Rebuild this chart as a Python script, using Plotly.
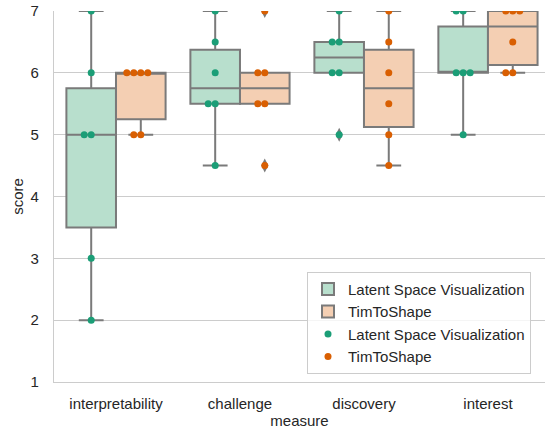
import numpy as np
import plotly.graph_objects as go

# ---- data ----
measures = ["interpretability", "challenge", "discovery", "interest"]
group_names = ["Latent Space Visualization", "TimToShape"]
lsv_scores = [
    [2, 3, 5, 5, 6, 7],
    [4.5, 5.5, 5.5, 6, 6.5, 7],
    [5, 6, 6, 6.5, 6.5, 7],
    [5, 6, 6, 6, 7, 7],
]
tts_scores = [
    [5, 5, 6, 6, 6, 6],
    [4.5, 5.5, 5.5, 6, 6, 7],
    [4.5, 5, 5.5, 6, 6.5, 7],
    [6, 6, 6.5, 7, 7, 7],
]
y_ticks = [1, 2, 3, 4, 5, 6, 7]

# ---- style ----
box_fill = ["#b8dfcd", "#f4cfb3"]
point_col = ["#1b9e77", "#d95f02"]
line_gray = "#7a7a7a"
text_col = "#262626"
grid_col = "#cccccc"

W, H = 545, 429
ml, mr, mt, mb = 54, 0, 11, 47
x_range = [-0.5, 3.46]
plot_px = W - ml - mr
dodges = [-0.2, 0.2]
box_w = 0.4
marker_px = 7
spacing = marker_px * (x_range[1] - x_range[0]) / plot_px


def box_stats(vals):
    v = np.array(vals, dtype=float)
    q1, med, q3 = np.percentile(v, [25, 50, 75])
    iqr = q3 - q1
    lo_lim, hi_lim = q1 - 1.5 * iqr, q3 + 1.5 * iqr
    inside = v[(v >= lo_lim) & (v <= hi_lim)]
    out = v[(v < lo_lim) | (v > hi_lim)]
    return q1, med, q3, inside.min(), inside.max(), out


def swarm_offsets(vals):
    # same-value points are spread 0, -1, +1, -2, +2 ... dot widths
    seq = [0]
    k = 1
    while len(seq) < 50:
        seq.append(-k)
        seq.append(k)
        k += 1
    counts = {}
    offs = []
    for v in vals:
        c = counts.get(v, 0)
        offs.append(seq[c] * spacing)
        counts[v] = c + 1
    return offs


fig = go.Figure()
all_groups = [lsv_scores, tts_scores]

# boxes
for g, scores in enumerate(all_groups):
    xs, q1s, meds, q3s, los, his = [], [], [], [], [], []
    for i, vals in enumerate(scores):
        q1, med, q3, lo, hi, _ = box_stats(vals)
        xs.append(i + dodges[g])
        q1s.append(q1); meds.append(med); q3s.append(q3)
        los.append(lo); his.append(hi)
    fig.add_trace(go.Box(
        x=xs, q1=q1s, median=meds, q3=q3s, lowerfence=los, upperfence=his,
        width=box_w, whiskerwidth=0.5, boxpoints=False,
        fillcolor=box_fill[g], line=dict(color=line_gray, width=2),
        name=group_names[g], legendgroup="box" + str(g), hoverinfo="skip",
    ))

# outliers (flier diamonds)
ox, oy = [], []
for g, scores in enumerate(all_groups):
    for i, vals in enumerate(scores):
        out = box_stats(vals)[5]
        for o in out:
            ox.append(i + dodges[g])
            oy.append(o)
fig.add_trace(go.Scatter(
    x=ox, y=oy, mode="markers", showlegend=False, hoverinfo="skip",
    marker=dict(symbol="diamond-tall", size=10, color=line_gray, line=dict(width=0)),
))

# swarm points
for g, scores in enumerate(all_groups):
    px_, py_ = [], []
    for i, vals in enumerate(scores):
        offs = swarm_offsets(vals)
        for v, o in zip(vals, offs):
            px_.append(i + dodges[g] + o)
            py_.append(v)
    fig.add_trace(go.Scatter(
        x=px_, y=py_, mode="markers", name=group_names[g],
        marker=dict(size=marker_px, color=point_col[g], line=dict(width=0)),
        hoverinfo="skip",
    ))

fig.update_layout(
    width=W, height=H,
    margin=dict(l=ml, r=mr, t=mt, b=mb, pad=0, autoexpand=False),
    paper_bgcolor="white", plot_bgcolor="white",
    font=dict(family="Liberation Sans, Arial, sans-serif", size=15, color=text_col),
    boxmode="overlay",
    showlegend=True,
    legend=dict(
        x=(307 - ml) / plot_px, y=0.022, xanchor="left", yanchor="bottom",
        bgcolor="rgba(255,255,255,0.8)", bordercolor=grid_col, borderwidth=1,
        font=dict(size=15, color=text_col), tracegroupgap=0,
        itemwidth=30,
    ),
)
fig.update_xaxes(
    range=x_range, tickmode="array", tickvals=list(range(len(measures))), ticktext=measures,
    showgrid=False, zeroline=False, showline=True, linecolor=grid_col, linewidth=1.25,
    ticks="", ticklabelstandoff=8, automargin=False,
    title=dict(text="measure", standoff=4, font=dict(size=15, color=text_col)),
)
fig.update_yaxes(
    range=[1, 7], tickmode="array", tickvals=y_ticks, ticktext=[str(t) for t in y_ticks],
    showgrid=True, gridcolor=grid_col, gridwidth=1.25, zeroline=False,
    showline=True, linecolor=grid_col, linewidth=1.25,
    ticks="", ticklabelstandoff=11, automargin=False,
    title=dict(text="score", standoff=3, font=dict(size=15, color=text_col)),
)

fig.write_html(
    "out.html",
    config={"displayModeBar": False},
    post_script="document.body.style.margin='0';document.body.style.overflow='hidden';",
)
